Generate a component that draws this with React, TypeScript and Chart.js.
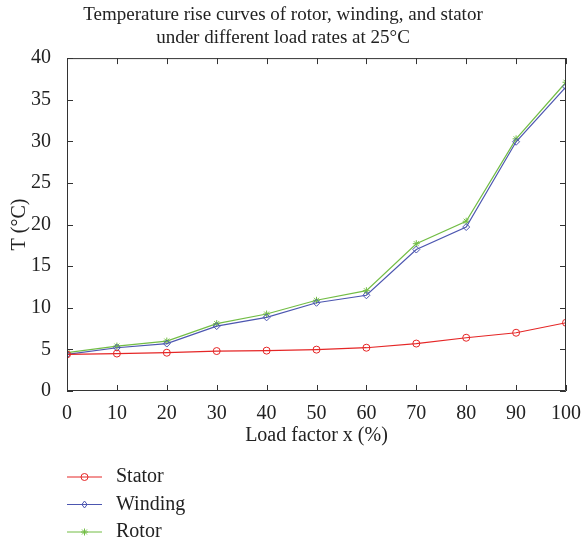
import React, { useEffect, useRef } from "react";
import { Chart, registerables } from "chart.js";

Chart.register(...registerables);

const loadFactors = [0, 10, 20, 30, 40, 50, 60, 70, 80, 90, 100];
const statorValues = [4.4, 4.5, 4.6, 4.8, 4.85, 4.97, 5.2, 5.7, 6.4, 7.0, 8.2];
const windingValues = [4.4, 5.2, 5.7, 7.8, 8.85, 10.6, 11.5, 17.0, 19.7, 29.95, 36.55];
const rotorValues = [4.6, 5.4, 6.0, 8.1, 9.25, 10.9, 12.05, 17.7, 20.4, 30.3, 37.1];
const seriesNames = ["Stator", "Winding", "Rotor"];
const titleLines = [
  "Temperature rise curves of rotor, winding, and stator",
  "under different load rates at 25°C",
];

const FONT = "'Liberation Serif', 'Times New Roman', serif";
const TEXT = "#222222";
const AXIS = "#333333";
const RED = "#e52626";
const BLUE = "#4c56b0";
const GREEN = "#72bd45";

function drawMarker(ctx: any, style: string, x: number, y: number, r: number, color: string, fill: string) {
  ctx.save();
  ctx.strokeStyle = color;
  ctx.fillStyle = fill;
  ctx.lineWidth = 1;
  ctx.beginPath();
  if (style === "circle") {
    ctx.arc(x, y, r, 0, Math.PI * 2);
    ctx.fill();
    ctx.stroke();
  } else if (style === "rectRot") {
    ctx.moveTo(x, y - r);
    ctx.lineTo(x + r * 0.75, y);
    ctx.lineTo(x, y + r);
    ctx.lineTo(x - r * 0.75, y);
    ctx.closePath();
    ctx.fill();
    ctx.stroke();
  } else {
    for (let k = 0; k < 4; k++) {
      const a = (k * Math.PI) / 4;
      ctx.moveTo(x - Math.cos(a) * r, y - Math.sin(a) * r);
      ctx.lineTo(x + Math.cos(a) * r, y + Math.sin(a) * r);
    }
    ctx.stroke();
  }
  ctx.restore();
}

const boxAndLegend = {
  id: "boxAndLegend",
  afterDatasetsDraw(chart: any) {
    const { ctx, chartArea, scales } = chart;
    const { left, right, top, bottom } = chartArea;
    ctx.save();
    ctx.strokeStyle = AXIS;
    ctx.lineWidth = 1;
    ctx.beginPath();
    ctx.rect(left + 0.5, top + 0.5, right - left - 1, bottom - top - 1);
    ctx.stroke();
    const tl = 6;
    ctx.beginPath();
    scales.x.ticks.forEach((t: any) => {
      const px = Math.round(scales.x.getPixelForValue(t.value)) + 0.5;
      ctx.moveTo(px, bottom);
      ctx.lineTo(px, bottom - tl);
      ctx.moveTo(px, top);
      ctx.lineTo(px, top + tl);
    });
    scales.y.ticks.forEach((t: any) => {
      const py = Math.round(scales.y.getPixelForValue(t.value)) + 0.5;
      ctx.moveTo(left, py);
      ctx.lineTo(left + tl, py);
      ctx.moveTo(right, py);
      ctx.lineTo(right - tl, py);
    });
    ctx.stroke();
    ctx.restore();
  },
  afterDraw(chart: any) {
    const { ctx } = chart;
    const items = chart.data.datasets;
    ctx.save();
    items.forEach((ds: any, i: number) => {
      const y = 477 + i * 27.5;
      const x0 = 67;
      const x1 = 102;
      ctx.strokeStyle = ds.borderColor;
      ctx.lineWidth = 1;
      ctx.beginPath();
      ctx.moveTo(x0, y);
      ctx.lineTo(x1, y);
      ctx.stroke();
      drawMarker(ctx, ds.pointStyle, (x0 + x1) / 2, y, ds.pointRadius, ds.borderColor, ds.pointBackgroundColor);
      ctx.fillStyle = TEXT;
      ctx.font = "20px " + FONT;
      ctx.textBaseline = "middle";
      ctx.textAlign = "left";
      ctx.fillText(ds.label, 116, y);
    });
    ctx.restore();
  },
};

export default function App() {
  const ref = useRef<HTMLCanvasElement | null>(null);
  useEffect(() => {
    if (!ref.current) return;
    const mk = (label: string, data: number[], color: string, style: string, fill: string) => ({
      label,
      data: loadFactors.map((x, i) => ({ x, y: data[i] })),
      borderColor: color,
      backgroundColor: color,
      pointBackgroundColor: fill,
      pointBorderColor: color,
      pointStyle: style,
      pointRadius: 3.5,
      pointBorderWidth: 1,
      borderWidth: 1.2,
      tension: 0,
    });
    const chart = new Chart(ref.current, {
      type: "line",
      data: {
        datasets: [
          mk(seriesNames[0], statorValues, RED, "circle", "rgba(255,255,255,0)"),
          mk(seriesNames[1], windingValues, BLUE, "rectRot", "rgba(255,255,255,0)"),
          mk(seriesNames[2], rotorValues, GREEN, "star", GREEN),
        ],
      },
      options: {
        animation: false,
        responsive: false,
        maintainAspectRatio: false,
        layout: { padding: { left: 0, right: 15, top: 0, bottom: 98 } },
        plugins: {
          legend: { display: false },
          tooltip: { enabled: false },
          title: {
            display: true,
            text: titleLines,
            color: TEXT,
            font: { family: FONT, size: 19, weight: "normal", lineHeight: 1.2 },
            padding: { top: 4, bottom: 8.5 },
          },
        },
        scales: {
          x: {
            type: "linear",
            min: 0,
            max: 100,
            ticks: { stepSize: 10, color: TEXT, font: { family: FONT, size: 20 }, padding: 3, maxRotation: 0 },
            grid: { display: false },
            border: { display: false },
            title: {
              display: true,
              text: "Load factor x (%)",
              color: TEXT,
              font: { family: FONT, size: 20 },
              padding: { top: 0, bottom: 0 },
            },
            afterFit: (s: any) => {
              s.height = 57;
              s.paddingRight = 0;
              s.paddingLeft = 0;
            },
          },
          y: {
            type: "linear",
            min: 0,
            max: 40,
            ticks: { stepSize: 5, color: TEXT, font: { family: FONT, size: 20 }, padding: 8 },
            grid: { display: false },
            border: { display: false },
            title: {
              display: true,
              text: "T (°C)",
              color: TEXT,
              font: { family: FONT, size: 20 },
              padding: { top: 8, bottom: 0 },
            },
            afterFit: (s: any) => {
              s.width = 67;
            },
          },
        },
      },
      plugins: [boxAndLegend],
    } as any);
    return () => chart.destroy();
  }, []);
  return (
    <div style={{ position: "fixed", left: 0, top: 0, width: 581, height: 546, background: "#fff" }}>
      <canvas ref={ref} width={581} height={546} style={{ width: 581, height: 546, display: "block" }} />
    </div>
  );
}
